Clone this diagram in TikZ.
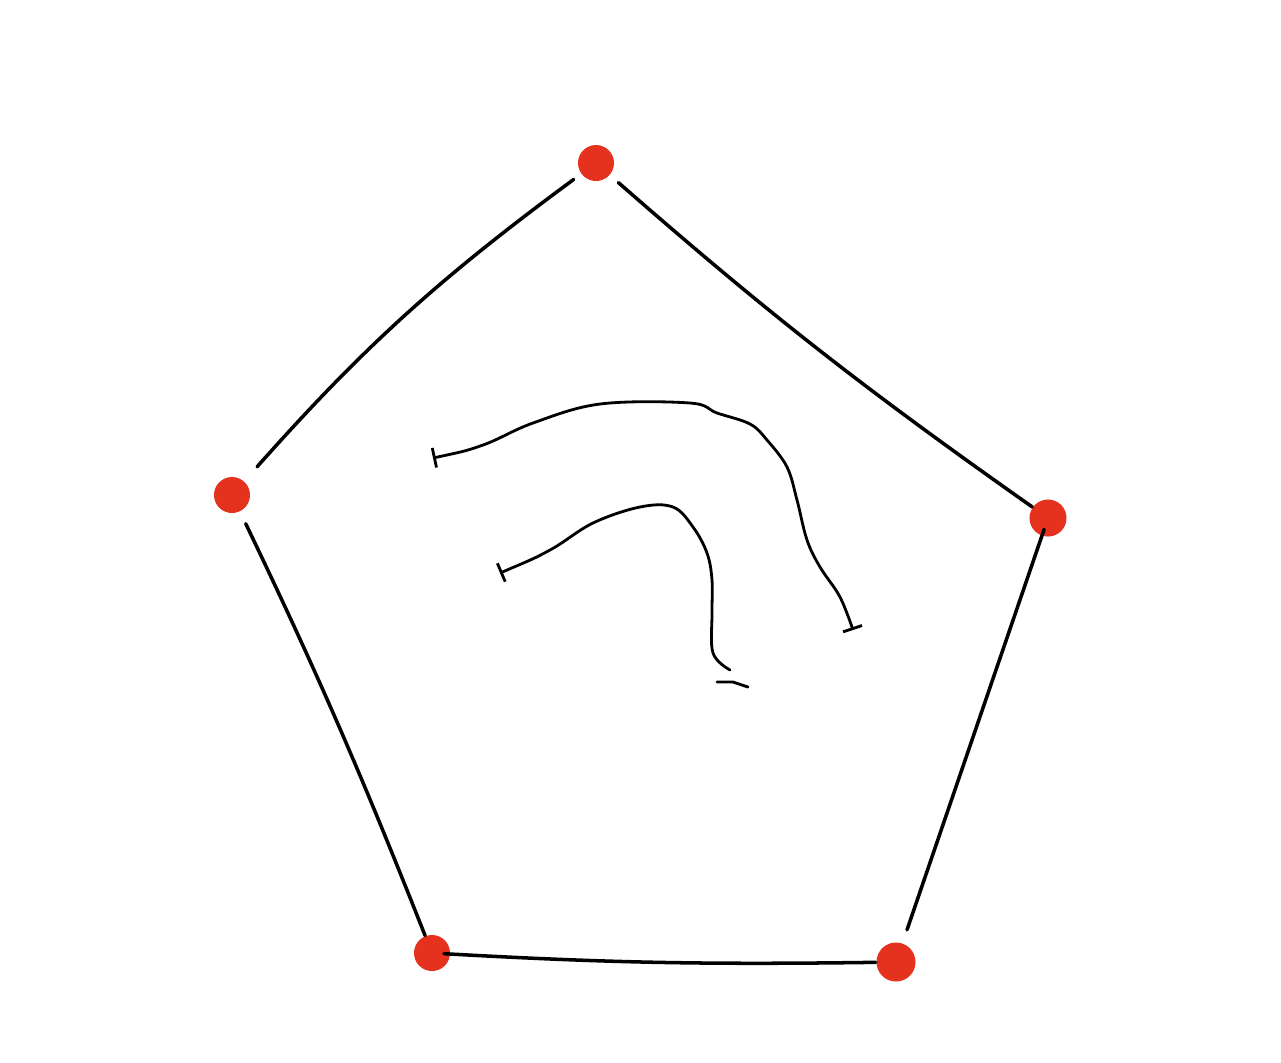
\documentclass[tikz,border=0pt]{standalone}
\usepackage{xcolor}
\usepackage{tikz}
\usetikzlibrary{arrows.meta, calc}
\definecolor{dotred}{HTML}{E5321F}

\begin{document}
\begin{tikzpicture}[x=0.01cm, y=-0.01cm,
    corner/.style={
        circle,
        fill=dotred,
        inner sep=0pt,
        minimum size=0.36cm
    },
    sideline/.style={
        line width=1pt,
        line cap=round,
        black
    },
    arcline/.style={
        line width=0.8pt,
        line cap=round,
        black,
        {Bar[width=0.2cm]}-{Bar[width=0.2cm]}
    }
]
\useasboundingbox (0,0) rectangle (1281,1062);

% Corner dots of the pentagon
\node[corner] (top) at (596,163) {};
\node[corner] (left) at (232,495) {};
\node[corner, minimum size=0.37cm] (right) at (1048,518) {};
\node[corner] (botleft) at (432,953) {};
\node[corner, minimum size=0.39cm] (botright) at (896,962) {};

% Sides, each a little short of the dots
\draw[sideline, shorten <=0.09cm, shorten >=0.19cm] (top) to[bend right=6] (left);
\draw[sideline, shorten <=0.11cm] (top) to[bend right=3] (right);
\draw[sideline, shorten <=0.13cm] (left) to[bend left=2] (botleft);
\draw[sideline, shorten <=0.12cm, shorten >=0.34cm] (right.center) -- (botright.center);
\draw[sideline, shorten <=0.12cm] (botleft.center) to[bend right=2] (botright);

% Inner arcs
\coordinate (outerstart) at (433,458);
\coordinate (outerend) at (853,630);
\coordinate (innerstart) at (500,573);
\coordinate (innerend) at (730,670);
\draw[arcline] plot[smooth, tension=0.6] coordinates {(outerstart) (483,445) (533,423) (600,404) (690,403) (717,413) (750,424) (767,440) (787,467) (797,500) (807,540) (820,567) (840,597) (outerend)};
\draw[line width=0.8pt, line cap=round, {Bar[width=0.2cm]}-] plot[smooth, tension=0.6] coordinates {(innerstart) (550,550) (593,523) (640,507) (673,507) (693,527) (707,553) (712,580) (712,613) (713,653) (innerend)};
\draw[line width=0.8pt, line cap=round] (717,682) -- (733,682) -- (748,687);

\end{tikzpicture}
\end{document}
